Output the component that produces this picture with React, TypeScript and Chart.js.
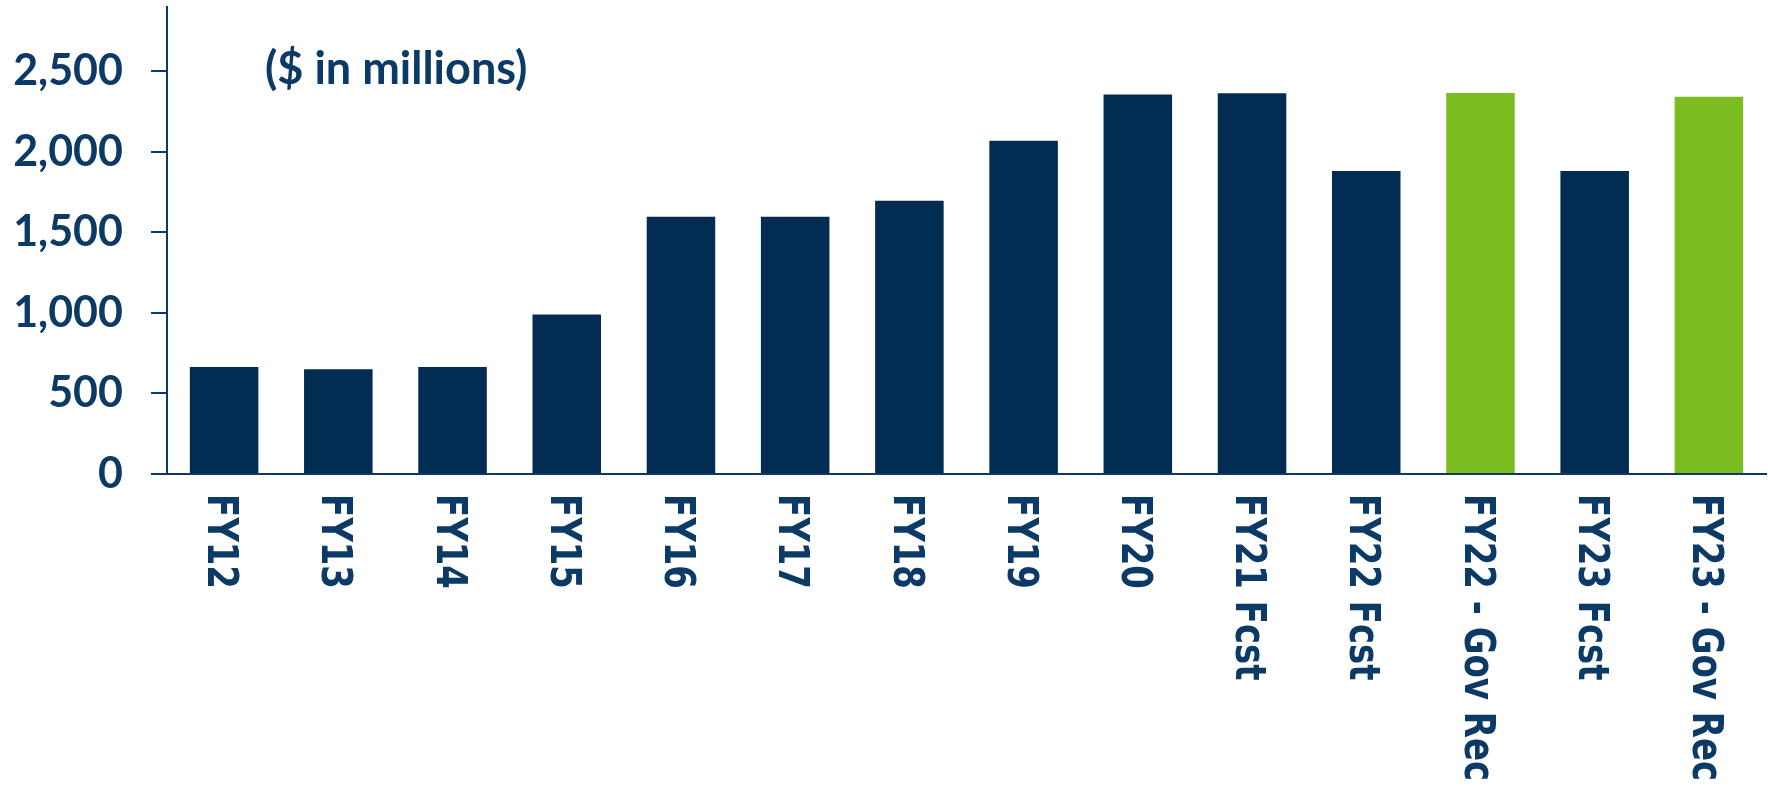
import React, { useEffect, useRef } from "react";
import { Chart, registerables } from "chart.js";

Chart.register(...registerables);

const categories: string[] = [
  "FY12", "FY13", "FY14", "FY15", "FY16", "FY17", "FY18", "FY19", "FY20",
  "FY21 Fcst", "FY22 Fcst", "FY22 - Gov Rec", "FY23 Fcst", "FY23 - Gov Rec",
];
const amounts: number[] = [
  665, 650, 665, 990, 1598, 1598, 1697, 2069, 2356,
  2365, 1882, 2366, 1882, 2342,
];
const yTickValues: number[] = [0, 500, 1000, 1500, 2000, 2500];
const yMax = 2900;
const unitNote = "($ in millions)";

const NAVY = "#022C51";
const TEXT = "#0B3A66";
const GREEN = "#7BBD21";

export default function App() {
  const ref = useRef<HTMLCanvasElement | null>(null);

  useEffect(() => {
    const canvas = ref.current;
    if (!canvas) return;

    const labelPlugin = {
      id: "customText",
      afterDraw(chart: any) {
        const ctx = chart.ctx as CanvasRenderingContext2D;
        const area = chart.chartArea;
        const xs = chart.scales.x;
        // unit note
        ctx.save();
        ctx.fillStyle = TEXT;
        ctx.font = "bold 45px Lato";
        ctx.textAlign = "left";
        ctx.textBaseline = "alphabetic";
        ctx.fillText(unitNote, area.left + 98, 84);
        ctx.restore();
        // rotated category labels (reading top to bottom)
        const size = 43.5;
        const cap = 0.729 * size;
        categories.forEach((lab, i) => {
          const x = xs.getPixelForValue(i);
          ctx.save();
          ctx.translate(x, area.bottom + 20);
          ctx.rotate(Math.PI / 2);
          ctx.scale(0.78, 1);
          ctx.fillStyle = TEXT;
          ctx.font = `bold ${size}px "DejaVu Sans"`;
          ctx.textAlign = "left";
          ctx.textBaseline = "alphabetic";
          ctx.fillText(lab, 0, cap / 2);
          ctx.restore();
        });
      },
    };

    const chart = new Chart(canvas, {
      type: "bar",
      data: {
        labels: categories,
        datasets: [
          {
            data: amounts,
            backgroundColor: categories.map((c) => (c.includes("Gov Rec") ? GREEN : NAVY)),
            barPercentage: 0.6,
            categoryPercentage: 1.0,
            borderWidth: 0,
          },
        ],
      },
      options: {
        animation: false,
        responsive: false,
        devicePixelRatio: 1,
        layout: { padding: { left: 0, right: 2, top: 7, bottom: 314 } },
        plugins: {
          legend: { display: false },
          tooltip: { enabled: false },
          title: { display: false },
        },
        scales: {
          x: {
            type: "category",
            offset: true,
            ticks: { display: false },
            grid: { display: true, drawOnChartArea: false, drawTicks: false },
            border: { display: true, color: TEXT, width: 2 },
            afterFit: (s: any) => {
              s.height = 0;
              s.paddingLeft = 0;
              s.paddingRight = 0;
            },
          },
          y: {
            type: "linear",
            min: 0,
            max: yMax,
            afterBuildTicks: (axis: any) => {
              axis.ticks = yTickValues.map((v) => ({ value: v }));
            },
            ticks: {
              color: TEXT,
              padding: 28,
              font: { family: "Lato", weight: "bold", size: 43 },
              callback: (v: any) => Number(v).toLocaleString("en-US"),
            },
            grid: {
              display: true,
              drawOnChartArea: false,
              drawTicks: true,
              tickLength: 16,
              color: TEXT,
              lineWidth: 2,
            },
            border: { display: true, color: TEXT, width: 2 },
            afterFit: (s: any) => {
              s.width = 167;
              s.paddingTop = 0;
              s.paddingBottom = 0;
            },
          },
        },
      },
      plugins: [labelPlugin],
    });

    return () => chart.destroy();
  }, []);

  return (
    <div style={{ position: "absolute", left: 0, top: 0, width: 1768, height: 788, background: "#fff", overflow: "hidden" }}>
      <canvas ref={ref} width={1768} height={788} style={{ width: 1768, height: 788, display: "block" }} />
    </div>
  );
}
